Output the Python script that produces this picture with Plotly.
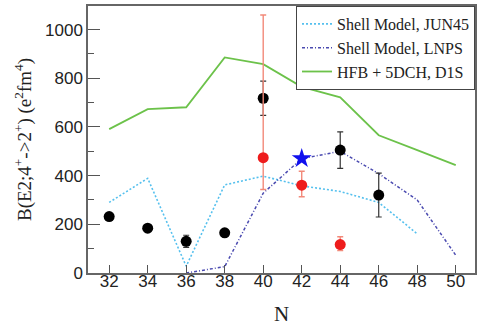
import plotly.graph_objects as go

# Neutron number N
n_calc = [32, 34, 36, 38, 40, 42, 44, 46, 48, 50]

# HFB + 5DCH, D1S
hfb = [591, 673, 681, 886, 858, 765, 722, 566, 505, 443]

# Shell model JUN45 (N = 32 ... 48)
n_jun = [32, 34, 36, 38, 40, 42, 44, 46, 48]
jun45 = [290, 389, 28, 362, 398, 358, 335, 290, 161]

# Shell model LNPS (N = 36 ... 50)
n_lnps = [36, 38, 40, 42, 44, 46, 48, 50]
lnps = [0, 26, 328, 470, 500, 408, 300, 73]

# Experimental values (black)
n_exp = [32, 34, 36, 38, 40, 44, 46]
b_exp = [232, 184, 130, 165, 718, 505, 320]
err_exp = [10, 10, 25, 10, 70, 75, 90]

# Experimental values (red)
n_red = [40, 42, 44]
b_red = [474, 361, 117]
err_red_up = [586, 57, 32]
err_red_dn = [131, 48, 25]

# Highlighted point (star)
n_star = [42]
b_star = [470]

fig = go.Figure()

fig.add_trace(go.Scatter(
    x=n_jun, y=jun45, mode="lines", name="Shell Model, JUN45",
    line=dict(color="#55c0ee", width=1.6, dash="2px,2px"),
))
fig.add_trace(go.Scatter(
    x=n_lnps, y=lnps, mode="lines", name="Shell Model, LNPS",
    line=dict(color="#4a4ab0", width=1.5, dash="3px,2px,1px,2px"),
))
fig.add_trace(go.Scatter(
    x=n_calc, y=hfb, mode="lines", name="HFB + 5DCH, D1S",
    line=dict(color="#6cc24a", width=1.8),
))
fig.add_trace(go.Scatter(
    x=n_exp, y=b_exp, mode="markers", showlegend=False,
    marker=dict(color="black", size=11),
    error_y=dict(type="data", array=err_exp, color="#333333",
                 thickness=1.2, width=3),
))
fig.add_trace(go.Scatter(
    x=n_red, y=b_red, mode="markers", showlegend=False,
    marker=dict(color="#ee1c1c", size=11),
    error_y=dict(type="data", symmetric=False, array=err_red_up,
                 arrayminus=err_red_dn, color="#f28a7a",
                 thickness=1.4, width=3),
))
fig.add_trace(go.Scatter(
    x=n_star, y=b_star, mode="markers", showlegend=False,
    marker=dict(color="#1010ee", size=15, symbol="star"),
))

tick_font = dict(family="Liberation Sans, Arial, sans-serif", size=17, color="#222222")
serif = "Liberation Serif, Times New Roman, serif"

fig.update_layout(
    width=479, height=326,
    margin=dict(l=88, r=2, t=6, b=50),
    paper_bgcolor="white", plot_bgcolor="white",
    showlegend=True,
    legend=dict(
        x=1, xanchor="right", y=1, yanchor="top",
        bgcolor="white", bordercolor="#444444", borderwidth=1,
        font=dict(family=serif, size=16, color="#222222"),
        tracegroupgap=0, itemwidth=30,
    ),
    xaxis=dict(
        range=[30.9, 51.0], tickmode="array",
        tickvals=[32, 34, 36, 38, 40, 42, 44, 46, 48, 50],
        ticks="inside", ticklen=8, tickcolor="#555555", tickwidth=1.2,
        ticklabelstandoff=-8,
        showline=True, linecolor="#666666", linewidth=1.5, mirror=True,
        showgrid=False, zeroline=False, tickfont=tick_font,
        title=dict(text="N", font=dict(family=serif, size=21, color="#222222"),
                   standoff=18),
    ),
    yaxis=dict(
        range=[0, 1097], tickmode="array",
        tickvals=[0, 200, 400, 600, 800, 1000],
        ticks="inside", ticklen=12, tickcolor="#555555", tickwidth=1.2,
        minor=dict(tickvals=[100, 300, 500, 700, 900], ticks="inside",
                   ticklen=6, tickcolor="#555555", showgrid=False),
        showline=True, linecolor="#666666", linewidth=1.5, mirror=True,
        showgrid=False, zeroline=False, tickfont=tick_font,
        title=dict(text="B(E2;4<sup>+</sup>->2<sup>+</sup>) (e<sup>2</sup>fm<sup>4</sup>)",
                   font=dict(family=serif, size=19, color="#222222"), standoff=8),
    ),
)

fig.write_html("out.html")
